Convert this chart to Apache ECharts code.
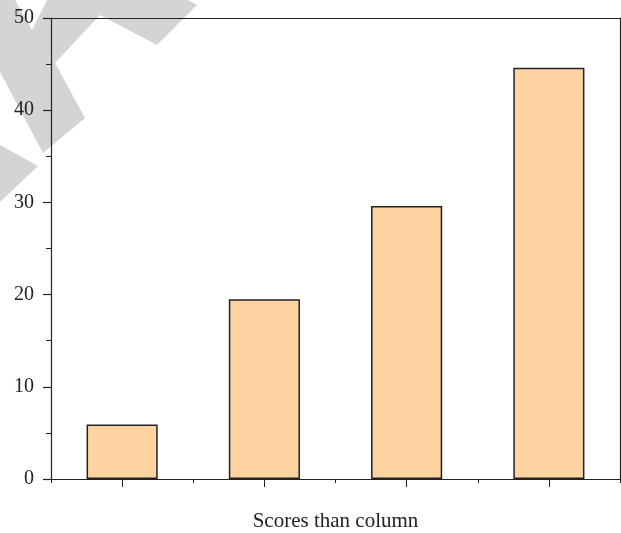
<!DOCTYPE html>
<html>
<head>
<meta charset="utf-8">
<script src="https://cdn.jsdelivr.net/npm/echarts@6/dist/echarts.min.js"></script>
<style>
  html, body { margin: 0; padding: 0; background: #fff; }
  #main { width: 621px; height: 533px; }
</style>
</head>
<body>
<div id="main"></div>
<script>
var categories = ['1', '2', '3', '4'];
var scores = [5.9, 19.5, 29.6, 44.6];
var yTicks = { min: 0, max: 50, interval: 10 };

var chartDom = document.getElementById('main');
var myChart = echarts.init(chartDom, null, { renderer: 'canvas' });

var serif = 'Liberation Serif';
var ink = '#222';

// light grey watermark in the upper-left corner
var wmColor = '#d4d4d4';
var watermark = [
  { type: 'polygon', z: -10, shape: { points: [[0, 0], [15, 0], [32, 30], [47, 0], [188, 0], [197, 5], [157, 45], [100, 15], [55, 63], [85, 118], [43, 153], [0, 72]] }, style: { fill: wmColor } },
  { type: 'polygon', z: -10, shape: { points: [[0, 145], [38, 166], [0, 202]] }, style: { fill: wmColor } }
];

var option = {
  animation: false,
  backgroundColor: '#fff',
  graphic: watermark,
  grid: { left: 51, right: 1, top: 18, bottom: 54, containLabel: false, outerBoundsMode: 'none' },
  xAxis: [
    {
      type: 'category',
      data: categories,
      position: 'bottom',
      axisLine: { lineStyle: { color: ink, width: 1.2 } },
      axisTick: { show: true, length: 4, lineStyle: { color: ink } },
      axisLabel: { show: false },
      name: 'Scores than column',
      nameLocation: 'middle',
      nameGap: 32,
      nameTextStyle: { fontFamily: serif, fontSize: 21, color: ink }
    },
    {
      type: 'category',
      data: categories,
      position: 'bottom',
      axisLine: { show: false },
      axisTick: { show: true, alignWithLabel: true, length: 8, lineStyle: { color: ink } },
      axisLabel: { show: false }
    },
    {
      type: 'category',
      data: categories,
      position: 'top',
      axisLine: { lineStyle: { color: ink, width: 1.2 } },
      axisTick: { show: false },
      axisLabel: { show: false }
    }
  ],
  yAxis: [
    {
      type: 'value',
      min: yTicks.min,
      max: yTicks.max,
      interval: yTicks.interval,
      axisLine: { show: true, lineStyle: { color: ink, width: 1.2 } },
      axisTick: { show: true, length: 8, lineStyle: { color: ink, width: 1.2 } },
      minorTick: { show: true, splitNumber: 2, length: 5, lineStyle: { color: ink } },
      splitLine: { show: false },
      axisLabel: { fontFamily: serif, fontSize: 20, color: ink, margin: 17 }
    },
    {
      type: 'value',
      position: 'right',
      min: yTicks.min,
      max: yTicks.max,
      interval: yTicks.interval,
      axisLine: { show: true, lineStyle: { color: ink, width: 1.2 } },
      axisTick: { show: false },
      splitLine: { show: false },
      axisLabel: { show: false }
    }
  ],
  series: [{
    type: 'bar',
    xAxisIndex: 0,
    yAxisIndex: 0,
    data: scores,
    barWidth: '50%',
    itemStyle: { color: '#fdd3a1', borderColor: ink, borderWidth: 1.5 }
  }]
};

myChart.setOption(option);
</script>
</body>
</html>
